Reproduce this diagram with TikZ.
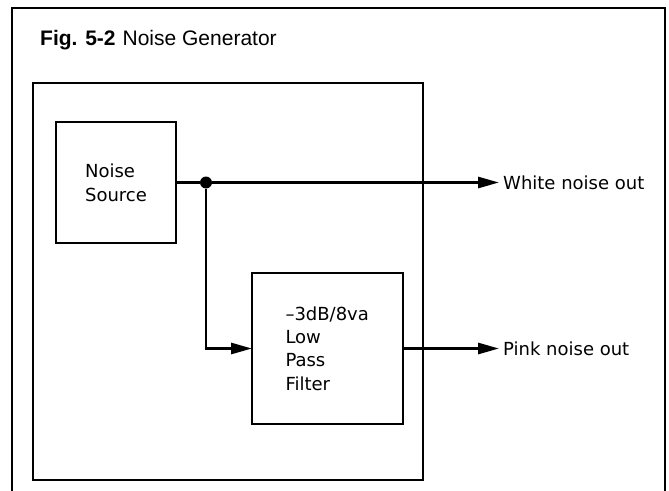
\documentclass[tikz,border=0pt]{standalone}
\usepackage{fontspec}
\setmainfont{DejaVu Sans}
\newfontfamily\titlefont{Liberation Sans}
\usetikzlibrary{arrows.meta,positioning}
\tikzset{
  sig/.style={>={Triangle[length=21pt,width=11pt]}, line width=2.8pt},
  blk/.style={
    rectangle, draw=black, line width=2.6pt, align=left,
    inner sep=0pt, outer sep=0pt, font=\fontsize{18}{24}\selectfont
  },
  outlbl/.style={anchor=west, inner xsep=4pt, inner ysep=0pt,
    font=\fontsize{18}{24}\selectfont},
  dot/.style={circle, fill=black, minimum size=12pt, inner sep=0pt},
}

\begin{document}
\begin{tikzpicture}[x=1pt, y=-1pt]
  \useasboundingbox (0,0) rectangle (669,490);
  % frame and inner panel
  \draw[line width=2.2pt] (12,492) |- (665,8) -- (665,492);
  \draw[line width=1.5pt] (33,83) rectangle (423,480);
  \node[anchor=base west, inner sep=0pt, font=\titlefont\fontsize{21}{24}\selectfont]
    (title) at (40,45) {\textbf{Fig. 5-2}\hspace{7pt}Noise Generator};

  \node[blk, minimum width=120pt, minimum height=121pt] (src) at (116,182.5) {Noise\\Source};
  \node[blk, minimum width=151pt, minimum height=151pt, text width=84pt,
    below right=30pt and 76pt of src] (flt)
    {{\fontsize{18}{23}\selectfont \textendash3dB/8va\\Low\\Pass\\Filter}};
  \node[dot] (j) at (206,182.5) {};
  \node[outlbl] (white) at (499,182.5) {White noise out};
  \node[outlbl] (pink) at (white.west |- flt.east) {Pink noise out};

  \draw[sig] (src.east) -- (j);
  \draw[sig, ->] (j) -- (white.west);
  \draw[sig, ->] (j) |- (flt.west);
  \draw[sig, ->] (flt.east) -- (pink.west);
\end{tikzpicture}
\end{document}
